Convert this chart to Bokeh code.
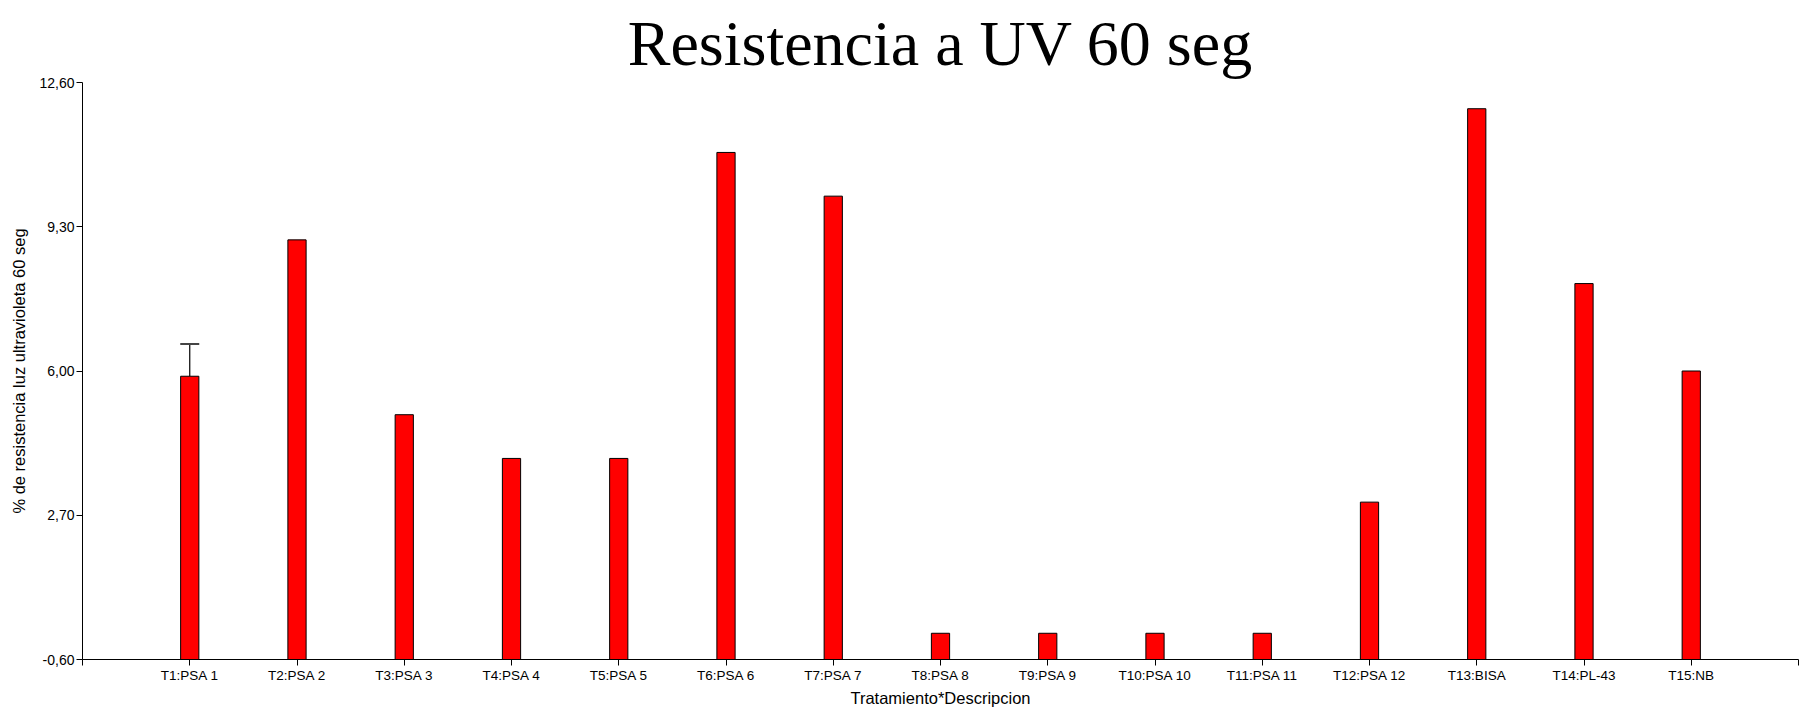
from bokeh.plotting import figure
from bokeh.models import FixedTicker, Range1d, ColumnDataSource, Whisker, TeeHead
from bokeh.embed import file_html
from bokeh.resources import INLINE

categories = ["T1:PSA 1", "T2:PSA 2", "T3:PSA 3", "T4:PSA 4", "T5:PSA 5", "T6:PSA 6",
              "T7:PSA 7", "T8:PSA 8", "T9:PSA 9", "T10:PSA 10", "T11:PSA 11",
              "T12:PSA 12", "T13:BISA", "T14:PL-43", "T15:NB"]
values = [5.88, 9.0, 5.0, 4.0, 4.0, 11.0, 10.0, 0.0, 0.0, 0.0, 0.0, 3.0, 12.0, 8.0, 6.0]
err_index = [0]
err_upper = [6.62]
y_ticks = [-0.6, 2.7, 6.0, 9.3, 12.6]
y_tick_labels = ["-0,60", "2,70", "6,00", "9,30", "12,60"]
y_min, y_max = -0.6, 12.6

xpos = list(range(1, len(categories) + 1))

p = figure(width=1803, height=710, output_backend="svg", toolbar_location=None,
           x_range=Range1d(0, len(categories) + 1), y_range=Range1d(y_min, y_max),
           min_border_left=82, min_border_right=5, min_border_top=82, min_border_bottom=51)
p.outline_line_color = None
p.grid.visible = False
p.background_fill_color = "white"

p.title.text = "Resistencia a UV 60 seg"
p.title.text_font = "Liberation Serif"
p.title.text_font_size = "64px"
p.title.text_font_style = "normal"
p.title.align = "center"
p.title.vertical_align = "top"
p.title.standoff = 4
p.title.text_color = "black"

src = ColumnDataSource(dict(x=xpos, top=values, bottom=[y_min] * len(values)))
p.vbar(x="x", top="top", bottom="bottom", width=0.17, source=src,
       fill_color="#ff0000", line_color="black", line_width=1)

esrc = ColumnDataSource(dict(x=[xpos[i] for i in err_index],
                             lower=[values[i] for i in err_index],
                             upper=err_upper))
w = Whisker(base="x", lower="lower", upper="upper", source=esrc,
            line_color="black", line_width=1.2,
            upper_head=TeeHead(size=19, line_color="#444444", line_width=2),
            lower_head=None)
p.add_layout(w)

# x axis
p.xaxis.ticker = FixedTicker(ticks=list(range(0, len(categories) + 2)))
overrides = {i: "" for i in range(0, len(categories) + 2)}
for i, c in zip(xpos, categories):
    overrides[i] = c
p.xaxis.major_label_overrides = overrides
p.xaxis.axis_label = "Tratamiento*Descripcion"
p.xaxis.major_label_standoff = 2
p.xaxis.axis_label_standoff = 3
p.xaxis.major_label_text_font_size = "13.5px"

# y axis
p.yaxis.ticker = FixedTicker(ticks=y_ticks)
p.yaxis.major_label_overrides = {t: l for t, l in zip(y_ticks, y_tick_labels)}
p.yaxis.axis_label = "% de resistencia luz ultravioleta 60 seg"
p.yaxis.major_label_standoff = 2
p.yaxis.axis_label_standoff = 8
p.yaxis.major_label_text_font_size = "14px"

for ax in (p.xaxis, p.yaxis):
    ax.axis_line_color = "black"
    ax.axis_line_width = 1
    ax.major_tick_out = 6
    ax.major_tick_in = 0
    ax.minor_tick_line_color = None
    ax.major_tick_line_color = "black"
    ax.major_label_text_font = "Liberation Sans"
    ax.major_label_text_color = "black"
    ax.axis_label_text_font = "Liberation Sans"
    ax.axis_label_text_font_size = "16.5px"
    ax.axis_label_text_font_style = "normal"
    ax.axis_label_text_color = "black"

open("out.html", "w").write(file_html(p, INLINE))
